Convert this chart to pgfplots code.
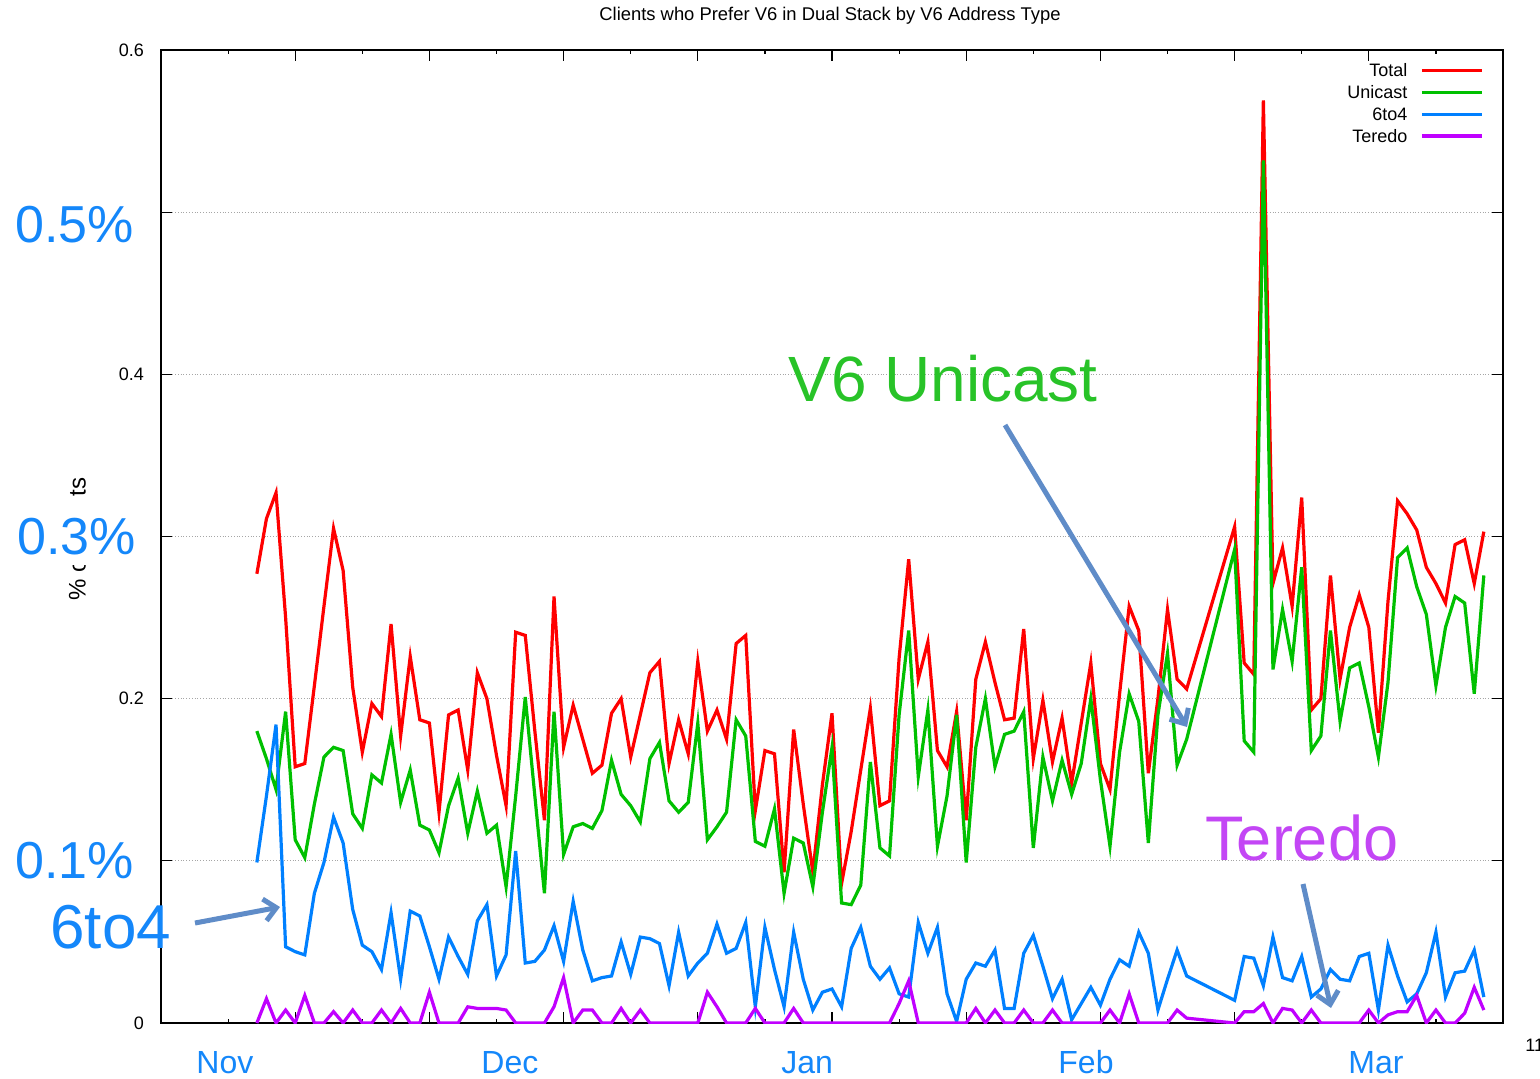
\documentclass[border=0pt]{standalone}
\usepackage{fontspec}
\setmainfont{Liberation Sans}
\usepackage{pgfplots}
\usepackage{pgfplotstable}
\pgfplotsset{compat=1.18}
\usetikzlibrary{arrows.meta}

\definecolor{cTotal}{RGB}{255,0,0}
\definecolor{cUni}{RGB}{0,192,0}
\definecolor{cSix}{RGB}{0,128,255}
\definecolor{cTer}{RGB}{192,0,255}
\definecolor{lblBlue}{RGB}{20,135,250}
\definecolor{lblGreen}{RGB}{40,195,40}
\definecolor{lblPurple}{RGB}{195,70,245}
\definecolor{arrowc}{RGB}{95,140,200}

\pgfplotstableread{
d total unicast sixto4 teredo
10 0.277 0.180 0.099 0
11 0.311 0.163 0.140 0.015
12 0.327 0.144 0.184 0
13 0.250 0.192 0.047 0.008
14 0.158 0.113 0.044 0
15 0.160 0.102 0.042 0.017
16 0.208 0.135 0.080 0
17 0.257 0.164 0.099 0
18 0.305 0.170 0.127 0.007
19 0.279 0.168 0.111 0
20 0.207 0.129 0.070 0.008
21 0.167 0.120 0.048 0
22 0.197 0.153 0.044 0
23 0.189 0.148 0.033 0.008
24 0.246 0.178 0.068 0
25 0.177 0.136 0.027 0.009
26 0.226 0.156 0.069 0
27 0.187 0.122 0.066 0
28 0.185 0.119 0.047 0.019
29 0.130 0.105 0.027 0
30 0.190 0.134 0.053 0
31 0.193 0.151 0.041 0
32 0.156 0.117 0.030 0.010
33 0.216 0.143 0.063 0.009
34 0.200 0.117 0.073 0.009
35 0.165 0.122 0.029 0.009
36 0.134 0.084 0.042 0.008
37 0.241 0.140 0.106 0
38 0.239 0.201 0.037 0
39 0.180 0.140 0.038 0
40 0.125 0.080 0.045 0
41 0.263 0.192 0.060 0.010
42 0.170 0.104 0.038 0.028
43 0.196 0.121 0.075 0
44 0.175 0.123 0.045 0.008
45 0.154 0.120 0.026 0.008
46 0.159 0.131 0.028 0
47 0.191 0.162 0.029 0
48 0.200 0.141 0.050 0.009
49 0.164 0.134 0.030 0
50 0.190 0.124 0.053 0.008
51 0.216 0.163 0.052 0
52 0.223 0.173 0.049 0
53 0.160 0.137 0.023 0
54 0.187 0.130 0.056 0
55 0.166 0.136 0.029 0
56 0.223 0.185 0.037 0
57 0.180 0.113 0.043 0.019
58 0.193 0.121 0.061 0.010
59 0.175 0.130 0.043 0
60 0.234 0.187 0.046 0
61 0.239 0.177 0.062 0
62 0.131 0.112 0.010 0.009
63 0.168 0.109 0.059 0
64 0.166 0.132 0.033 0
65 0.093 0.080 0.010 0
66 0.181 0.114 0.056 0.009
67 0.135 0.111 0.027 0
68 0.093 0.084 0.008 0
69 0.147 0.130 0.019 0
70 0.191 0.170 0.021 0
71 0.086 0.074 0.010 0
72 0.118 0.073 0.046 0
73 0.156 0.085 0.059 0
74 0.194 0.161 0.035 0
75 0.134 0.108 0.027 0
76 0.137 0.103 0.034 0
77 0.225 0.190 0.018 0.012
78 0.286 0.242 0.016 0.026
79 0.212 0.152 0.062 0
80 0.235 0.193 0.043 0
81 0.168 0.109 0.059 0
82 0.158 0.140 0.018 0
83 0.192 0.190 0.001 0
84 0.125 0.099 0.027 0
85 0.212 0.170 0.037 0.009
86 0.235 0.200 0.035 0
87 0.210 0.158 0.045 0.008
88 0.187 0.178 0.009 0
89 0.188 0.180 0.009 0
90 0.243 0.192 0.043 0.008
91 0.163 0.108 0.054 0
92 0.199 0.164 0.035 0
93 0.161 0.137 0.015 0.008
94 0.188 0.162 0.027 0
95 0.148 0.141 0.002 0
96 0.185 0.160 0.012 0
97 0.222 0.200 0.022 0
98 0.160 0.150 0.011 0
99 0.144 0.109 0.027 0.008
100 0.203 0.167 0.039 0
101 0.257 0.203 0.035 0.018
102 0.242 0.186 0.056 0
103 0.154 0.111 0.043 0
104 0.200 0.190 0.008 0
105 0.255 0.228 0.027 0
106 0.212 0.159 0.045 0.008
107 0.206 0.175 0.029 0.003
112 0.306 0.292 0.014 0
113 0.222 0.174 0.041 0.007
114 0.215 0.167 0.040 0.007
115 0.569 0.532 0.023 0.012
116 0.271 0.218 0.053 0
117 0.293 0.255 0.028 0.009
118 0.257 0.223 0.026 0.008
119 0.324 0.281 0.041 0
120 0.193 0.168 0.016 0.008
121 0.200 0.177 0.021 0
122 0.276 0.242 0.033 0
123 0.212 0.186 0.027 0
124 0.244 0.219 0.026 0
125 0.264 0.222 0.041 0
126 0.244 0.195 0.043 0.008
127 0.179 0.164 0.008 0
128 0.260 0.210 0.048 0.005
129 0.322 0.287 0.029 0.007
130 0.314 0.293 0.013 0.007
131 0.304 0.269 0.018 0.017
132 0.281 0.252 0.031 0
133 0.271 0.208 0.056 0.008
134 0.259 0.244 0.016 0
135 0.295 0.263 0.031 0
136 0.298 0.259 0.032 0.006
137 0.271 0.203 0.045 0.022
138 0.303 0.276 0.016 0.008
}\datatable

\begin{document}
\begin{tikzpicture}
\useasboundingbox (0,0) rectangle (770pt,539pt);
\begin{axis}[
  at={(80.5pt,27.5pt)}, anchor=south west,
  scale only axis, width=671pt, height=486.5pt,
  xmin=0, xmax=140, ymin=0, ymax=0.6,
  xtick={14,28,...,126}, minor xtick={7,21,...,133},
  xticklabels={},
  ytick={0,0.1,0.2,0.3,0.4,0.5,0.6},
  yticklabels={0,,0.2,,0.4,,0.6},
  yticklabel style={font=\fontsize{9}{10}\selectfont, xshift=-5pt},
  tick align=inside,
  major tick length=5.5pt, minor tick length=2pt,
  every tick/.style={black, line width=0.6pt},
  axis line style={line width=0.75pt},
  ymajorgrids,
  major grid style={densely dotted, gray!70, line width=0.6pt},
  legend plot pos=right,
  legend cell align=right,
  legend image code/.code={\draw[#1, line width=1.6pt] (0pt,0.5pt) -- (30pt,0.5pt);},
  legend style={at={(rel axis cs:0.9858,0.9908)}, anchor=north east, draw=none, fill=none,
    inner sep=0pt, column sep=4.5pt, row sep=-1pt,
    font=\fontsize{9}{10}\selectfont},
  every axis plot/.append style={line width=1.6pt},
]
\addplot[cTotal] table[x=d, y=total] {\datatable};
\addlegendentry{Total}
\addplot[cUni] table[x=d, y=unicast] {\datatable};
\addlegendentry{Unicast}
\addplot[cSix] table[x=d, y=sixto4] {\datatable};
\addlegendentry{6to4}
\addplot[cTer] table[x=d, y=teredo] {\datatable};
\addlegendentry{Teredo}
\end{axis}

\begin{scope}[x=0.5pt, y=-0.5pt, yshift=539pt]
  % title
  \node[font=\fontsize{9.2}{10}\selectfont] at (830,16) {Clients who Prefer V6 in Dual Stack by V6 Address Type};
  % y label (partly covered, as in the original)
  \node[rotate=90, font=\fontsize{12}{13}\selectfont] at (77,539) {\% of clients};
  % cut tick label at the bottom right
  \node[anchor=west, inner sep=0pt, font=\fontsize{9}{10}\selectfont] at (1525,1045) {11};
  % big percentage labels
  \node[anchor=base west, inner xsep=0pt, inner ysep=2pt, text height=26.5pt, text depth=3.5pt, fill=white, text=lblBlue, font=\fontsize{26}{30}\selectfont] at (15,243) {0.5\%};
  \node[anchor=base west, inner xsep=0pt, inner ysep=2pt, text height=26.5pt, text depth=3.5pt, fill=white, text=lblBlue, font=\fontsize{26}{30}\selectfont] at (17,554) {0.3\%};
  \node[anchor=base west, inner xsep=0pt, inner ysep=2pt, text height=26.5pt, text depth=3.5pt, fill=white, text=lblBlue, font=\fontsize{26}{30}\selectfont] at (15,878) {0.1\%};
  % month labels
  \foreach \m/\xx in {Nov/196, Dec/481, Jan/781, Feb/1058, Mar/1348}
    \node[anchor=base west, inner sep=0pt, text=lblBlue, font=\fontsize{16}{18}\selectfont] at (\xx,1073) {\m};
  % annotations
  \node[anchor=base west, inner sep=0pt, text=lblBlue, font=\fontsize{31}{34}\selectfont] at (50,948) {6to4};
  \node[anchor=base west, inner sep=0pt, text=lblGreen, font=\fontsize{32}{36}\selectfont] at (788,402) {V6 Unicast};
  \node[anchor=base west, inner sep=0pt, text=lblPurple, font=\fontsize{31.5}{34}\selectfont] at (1205,860) {Teredo};
  % arrows
  \draw[arrowc, line width=2.5pt, -{Straight Barb[length=6pt,width=11pt]}] (195,923) -- (280,907);
  \draw[arrowc, line width=2.5pt, -{Straight Barb[length=6pt,width=11pt]}] (1005,425) -- (1187,727);
  \draw[arrowc, line width=2.5pt, -{Straight Barb[length=6pt,width=11pt]}] (1303,884) -- (1331,1008);
\end{scope}
\end{tikzpicture}
\end{document}
